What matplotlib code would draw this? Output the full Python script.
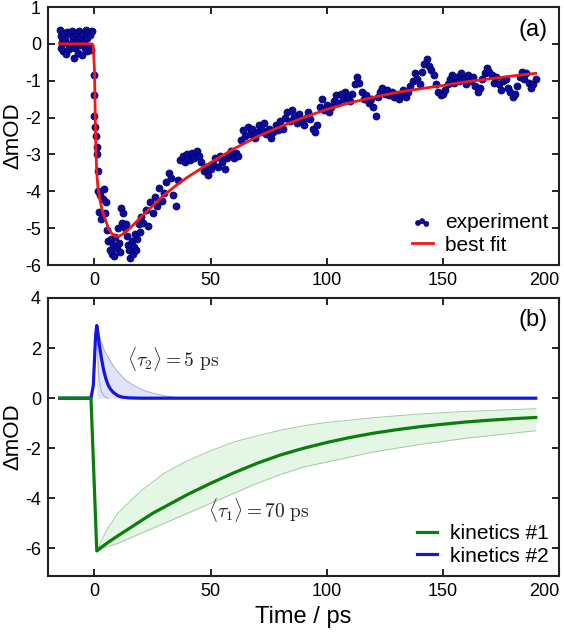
import matplotlib
matplotlib.use('Agg')
import matplotlib.pyplot as plt

plt.rcParams['font.family'] = ['Liberation Sans', 'DejaVu Sans']
plt.rcParams['mathtext.fontset'] = 'cm'
plt.rcParams['axes.unicode_minus'] = False

# ---------------- data: panel (a) ----------------
t_exp = [-15.0, -14.6, -14.2, -13.8, -13.4, -13.0, -12.6, -12.2, -11.8, -11.4, -11.0, -10.6,
         -10.2, -9.8, -9.4, -9.0, -8.6, -8.2, -7.8, -7.4, -7.0, -6.6, -6.2, -5.8, -5.4, -5.0,
         -4.6, -4.2, -3.8, -3.4, -3.0, -2.6, -2.2, -1.8, -1.4, -1.0,
         -0.4, -0.4, 0.0, 0.2, 0.5, 0.9, 1.0, 1.4,
         1.5, 2.0, 2.5, 3.0, 3.5, 4.0, 4.5, 5.0, 5.5, 6.0, 6.5, 7.0, 7.5, 8.0, 8.5, 9.0, 9.5,
         10.0, 10.5, 11.0, 11.5, 12.0, 12.5, 13.0, 13.5, 14.0, 14.5, 15.0, 15.5, 16.0, 16.5,
         17.0, 17.5, 18.0, 18.5, 19.0, 19.5, 20.0,
         21, 22, 23, 24, 25, 26, 27, 28, 29, 30, 31, 32, 33, 34, 35, 36, 37, 38, 39, 40,
         41, 42, 43, 44, 45, 46, 47, 48, 49, 50, 51, 52, 53, 54, 55, 56, 57, 58, 59, 60,
         61, 62, 63, 64, 65, 66, 67, 68, 69, 70, 71, 72, 73, 74, 75, 76, 77, 78, 79, 80,
         81, 82, 83, 84, 85, 86, 87, 88, 89, 90, 91, 92, 93, 94, 95, 96, 97, 98, 99, 100,
         101, 102, 103, 104, 105, 106, 107, 108, 109, 110, 111, 112, 113, 114, 115, 116, 117, 118, 119, 120,
         121, 122, 123, 124, 125, 126, 127, 128, 129, 130, 131, 132, 133, 134, 135, 136, 137, 138, 139, 140,
         141, 142, 143, 144, 145, 146, 147, 148, 149, 150, 151, 152, 153, 154, 155, 156, 157, 158, 159, 160,
         161, 162, 163, 164, 165, 166, 167, 168, 169, 170, 171, 172, 173, 174, 175, 176, 177, 178, 179, 180,
         181, 182, 183, 184, 185, 186, 187, 188, 189, 190]
od_exp = [0.38, -0.12, 0.22, 0.05, -0.2, 0.3, 0.1, -0.28, 0.33, 0.0, -0.15, 0.26,
          -0.05, 0.35, 0.12, -0.38, 0.2, -0.1, 0.3, 0.05, -0.25, 0.36, -0.02, 0.18, -0.3, 0.28,
          0.08, -0.12, 0.37, -0.2, 0.15, 0.3, -0.08, 0.25, -0.18, 0.35,
          -0.85, -1.4, -1.95, -2.25, -2.5, -2.8, -3.0, -3.45,
          -4.0, -4.55, -4.1, -4.75, -4.2, -3.95, -4.6, -4.3, -5.05, -5.35, -5.6, -5.3, -5.7, -5.45, -5.75, -5.25, -5.55,
          -5.0, -5.4, -5.65, -4.45, -4.85, -4.6, -5.0, -4.9, -5.2, -5.45, -5.6, -5.8, -5.35, -5.7,
          -5.5, -5.15, -5.6, -5.3, -4.9, -5.1, -4.7,
          -4.85, -4.5, -4.95, -4.3, -4.6, -4.15, -4.4, -3.9, -4.25, -4.05, -3.75, -3.5, -3.65, -4.1, -4.4, -3.7, -3.15, -3.05, -3.2, -3.0,
          -3.15, -2.95, -3.1, -2.9, -3.05, -3.2, -3.45, -3.35, -3.55, -3.4, -3.25, -3.1, -3.35, -3.05, -3.2, -3.4, -3.1, -3.0, -2.9, -3.1,
          -2.95, -3.05, -2.6, -2.35, -2.5, -2.25, -2.45, -2.3, -2.55, -2.4, -2.2, -2.35, -2.15, -2.45, -2.3, -2.55, -2.4, -2.2, -2.35, -2.1,
          -2.3, -2.0, -1.85, -2.1, -1.8, -1.95, -2.15, -1.9, -2.05, -2.2, -2.0, -1.85, -2.05, -2.3, -2.4, -2.2, -1.7, -1.5, -1.8, -1.65,
          -1.85, -1.7, -1.55, -1.4, -1.6, -1.35, -1.5, -1.3, -1.45, -1.55, -1.35, -1.1, -0.9, -1.05, -1.3, -1.5, -1.4, -1.6, -1.5, -1.7,
          -1.95, -1.45, -1.3, -1.2, -1.35, -1.25, -1.4, -1.3, -1.45, -1.35, -1.5, -1.4, -1.25, -1.45, -1.3, -1.15, -1.0, -0.8, -0.95, -1.1,
          -0.75, -0.55, -0.4, -0.6, -0.7, -0.85, -1.1, -1.3, -1.4, -1.35, -1.25, -1.1, -0.95, -0.85, -1.05, -0.9, -1.0, -0.8, -0.95, -1.1,
          -0.85, -1.0, -0.9, -1.15, -1.3, -1.2, -0.95, -0.8, -0.65, -0.75, -0.85, -1.05, -0.9, -1.1, -1.25, -1.0, -0.95, -1.2, -1.3, -1.45,
          -1.35, -1.15, -0.9, -0.75, -0.95, -0.8, -1.05, -1.2, -1.1, -0.95]

t_fit = [-15, -1, -0.5, 0.0, 0.3, 0.6, 1.0, 1.5, 2.4, 3.5, 4.6, 6.0, 7.5, 9.0, 10.5, 12, 15, 20,
         25, 30, 35, 40, 45, 50, 60, 70, 80, 90, 100, 110, 120, 130, 140, 150, 160, 170, 180, 190]
od_fit = [0.0, 0.0, -0.05, -0.7, -1.8, -2.9, -3.5, -3.9, -4.25, -4.55, -4.75, -5.0, -5.15, -5.22, -5.22, -5.17, -5.02, -4.7,
          -4.4, -4.1, -3.85, -3.62, -3.42, -3.22, -2.85, -2.52, -2.25, -2.0, -1.78, -1.6, -1.45, -1.32, -1.22, -1.13, -1.03, -0.95, -0.87, -0.8]

# ---------------- data: panel (b) ----------------
t_k2 = [-15, -1.5, -0.5, 0.0, 0.5, 1.0, 1.5, 2.0, 3.0, 4.0, 5.0, 6.0, 7.0, 8.0, 10.0, 12.0, 15.0, 20.0, 190]
od_k2 = [0.0, 0.0, 0.5, 1.5, 2.5, 2.9, 2.6, 2.2, 1.6, 1.1, 0.75, 0.5, 0.35, 0.24, 0.1, 0.04, 0.01, 0.0, 0.0]
t_k2_up = [1.0, 2.0, 4.0, 6.0, 8.0, 10.0, 13.0, 17.0, 21.0, 25.0, 30.0, 35.0, 40.0, 190]
od_k2_up = [2.9, 2.5, 1.95, 1.6, 1.3, 1.05, 0.75, 0.5, 0.32, 0.2, 0.1, 0.03, 0.0, 0.0]
t_k2_lo = [1.0, 1.5, 2.0, 3.0, 4.0, 5.0, 6.0, 40.0, 190]
od_k2_lo = [2.9, 1.5, 0.7, 0.25, 0.1, 0.03, 0.0, 0.0, 0.0]

t_k1 = [-15, -1.5, 1.0, 3, 6, 10, 15, 20, 25, 30, 40, 50, 60, 70, 80, 90, 100, 110, 120, 130, 140, 150, 160, 170, 180, 190]
od_k1 = [0.0, 0.0, -6.1, -5.95, -5.75, -5.5, -5.2, -4.9, -4.6, -4.35, -3.85, -3.4, -2.98, -2.6, -2.27, -2.0, -1.77, -1.57, -1.4,
         -1.26, -1.14, -1.04, -0.95, -0.88, -0.82, -0.77]
t_k1_band = [1.0, 5, 10, 20, 30, 40, 50, 60, 70, 80, 90, 100, 120, 140, 160, 190]
od_k1_up = [-6.1, -5.3, -4.6, -3.7, -3.0, -2.5, -2.1, -1.75, -1.5, -1.28, -1.1, -0.97, -0.78, -0.63, -0.53, -0.42]
od_k1_lo = [-6.1, -5.95, -5.8, -5.4, -5.0, -4.6, -4.2, -3.8, -3.4, -3.05, -2.75, -2.55, -2.15, -1.85, -1.6, -1.3]

xticks = [0, 50, 100, 150, 200]
yticks_a = [-6, -5, -4, -3, -2, -1, 0, 1]
yticks_b = [-6, -4, -2, 0, 2, 4]

# ---------------- figure ----------------
fig = plt.figure(figsize=(5.64, 6.36), dpi=100)
ax1 = fig.add_axes([48/564, 1-265/636, 511/564, 258/636])
ax2 = fig.add_axes([48/564, 1-576/636, 511/564, 278/636])

ax1.scatter(t_exp, od_exp, s=26, color='#0a0aa0', edgecolors='#00005a', linewidths=0.5,
            zorder=2, label='experiment')
ax1.plot(t_fit, od_fit, color='#f01818', lw=2.0, zorder=3, label='best fit')
ax1.set_xlim(-20, 200)
ax1.set_ylim(-6, 1)
ax1.set_yticks(yticks_a)
ax1.text(0.977, 0.91, '(a)', transform=ax1.transAxes, ha='right', va='center', fontsize=17)
ax1.legend(loc='lower right', frameon=False, fontsize=15, scatterpoints=3, handlelength=1.0,
           markerscale=0.7, handletextpad=0.6, labelspacing=0.15, borderaxespad=0.3, borderpad=0.2)

ax2.fill_between(t_k1_band, od_k1_lo, od_k1_up, color='#d3f2d3', alpha=0.6, lw=0, zorder=1)
ax2.plot(t_k1_band, od_k1_up, color='#a5c8a5', lw=0.7, zorder=2)
ax2.plot(t_k1_band, od_k1_lo, color='#a5c8a5', lw=0.7, zorder=2)
ax2.fill_between(t_k2_up, od_k2_up, 0, color='#d5d8f7', alpha=0.7, lw=0, zorder=1)
ax2.plot(t_k2_up[:-1], od_k2_up[:-1], color='#a7abd8', lw=0.7, zorder=2)
ax2.plot(t_k2_lo[:-2], od_k2_lo[:-2], color='#a7abd8', lw=0.7, zorder=2)
ax2.plot(t_k1, od_k1, color='#0b7d0b', lw=2.3, zorder=4, label='kinetics #1')
ax2.plot(t_k2, od_k2, color='#1515e0', lw=2.3, zorder=3, label='kinetics #2')
ax2.set_xlim(-20, 200)
ax2.set_ylim(-7.1, 4)
ax2.set_yticks(yticks_b)
ax2.text(0.977, 0.92, '(b)', transform=ax2.transAxes, ha='right', va='center', fontsize=17)
ax2.text(14, 1.55, r'$\langle\tau_2\rangle = 5\ \mathrm{ps}$', fontsize=14, color='#222222',
         va='center', ha='left')
ax2.text(49, -4.47, r'$\langle\tau_1\rangle = 70\ \mathrm{ps}$', fontsize=14, color='#222222',
         va='center', ha='left')
ax2.legend(loc='lower right', frameon=False, fontsize=15, handlelength=1.0,
           handletextpad=0.6, labelspacing=0.15, borderaxespad=0.3, borderpad=0.2)
ax2.set_xlabel('Time / ps', fontsize=17, labelpad=4)

for ax in (ax1, ax2):
    ax.set_xticks(xticks)
    ax.tick_params(direction='in', length=5, width=1.2, top=True, right=True, labelsize=13, pad=5)
    for sp in ax.spines.values():
        sp.set_linewidth(1.5)
        sp.set_color('#222222')
    ax.set_ylabel('ΔmOD', fontsize=16, va='center')
    ax.yaxis.set_label_coords(-0.068, 0.5)
    labels = ax.get_xticklabels()
    labels[-1].set_horizontalalignment('right')
    labels[-1].set_x(200)

fig.savefig('out.png', dpi=100)
